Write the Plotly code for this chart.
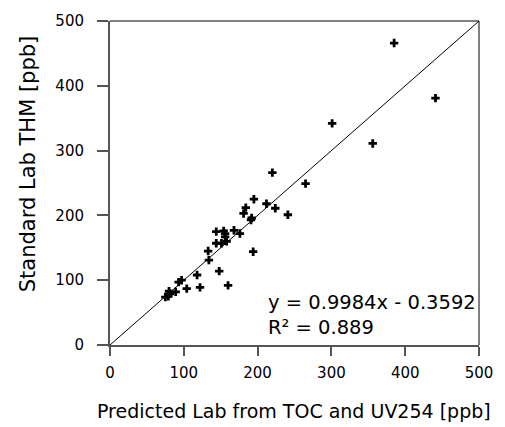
import plotly.graph_objects as go

# Predicted Lab THM from TOC and UV254 [ppb]
predicted = [385, 441, 301, 356, 265, 241, 220, 195, 212, 224, 184, 181, 192, 191,
             168, 176, 144, 154, 156, 156, 158, 151, 144, 133, 134, 194, 148, 160,
             118, 122, 104, 97, 93, 89, 80, 81, 79, 75]
# Standard Lab THM [ppb]
standard = [466, 381, 342, 311, 249, 201, 266, 225, 218, 211, 212, 203, 196, 193,
            177, 172, 175, 176, 172, 167, 160, 157, 157, 145, 131, 144, 114, 92,
            108, 89, 87, 100, 97, 82, 83, 79, 75, 74]
identity_line = [0, 500]
tick_vals = [0, 100, 200, 300, 400, 500]
equation_text = "y = 0.9984x - 0.3592<br>R² = 0.889"
x_title = "Predicted Lab from TOC and UV254 [ppb]"
y_title = "Standard Lab THM [ppb]"

FONT = "DejaVu Sans"

fig = go.Figure()
fig.add_trace(go.Scatter(x=identity_line, y=identity_line, mode="lines",
                         line=dict(color="black", width=1), showlegend=False,
                         hoverinfo="skip"))
fig.add_trace(go.Scatter(x=predicted, y=standard, mode="markers",
                         marker=dict(symbol="cross", size=7, color="black",
                                     line=dict(width=0)),
                         showlegend=False))

axis_common = dict(range=[0, 500], tickvals=tick_vals, ticks="outside",
                   tickcolor="#555555", tickwidth=1.5, showgrid=False,
                   zeroline=False, showline=True, linecolor="#555555",
                   linewidth=2, tickfont=dict(family=FONT, size=15, color="black"))
fig.update_xaxes(**axis_common, ticklen=9, ticklabelstandoff=4)
fig.update_yaxes(**axis_common, ticklen=11, ticklabelstandoff=10)

fig.update_layout(
    width=505, height=427,
    margin=dict(l=110, r=17, t=14, b=82),
    plot_bgcolor="white", paper_bgcolor="white",
    font=dict(family=FONT, color="black"),
    shapes=[
        dict(type="line", xref="paper", yref="paper", x0=0, x1=1, y0=1, y1=1,
             line=dict(color="black", width=1)),
        dict(type="line", xref="paper", yref="paper", x0=1, x1=1, y0=0, y1=1,
             line=dict(color="black", width=1)),
    ],
    annotations=[
        dict(text=equation_text, x=212, y=46.5, xref="x", yref="y",
             xanchor="left", yanchor="middle", align="left", showarrow=False,
             font=dict(family=FONT, size=19.5, color="black")),
        dict(text=x_title, x=0.4975, y=-0.203, xref="paper", yref="paper",
             xanchor="center", yanchor="middle", showarrow=False,
             font=dict(family=FONT, size=19, color="black")),
        dict(text=y_title, x=-0.223, y=0.56, xref="paper", yref="paper",
             xanchor="center", yanchor="middle", showarrow=False, textangle=-90,
             font=dict(family=FONT, size=21, color="black")),
    ],
)

fig.write_html("out.html")
